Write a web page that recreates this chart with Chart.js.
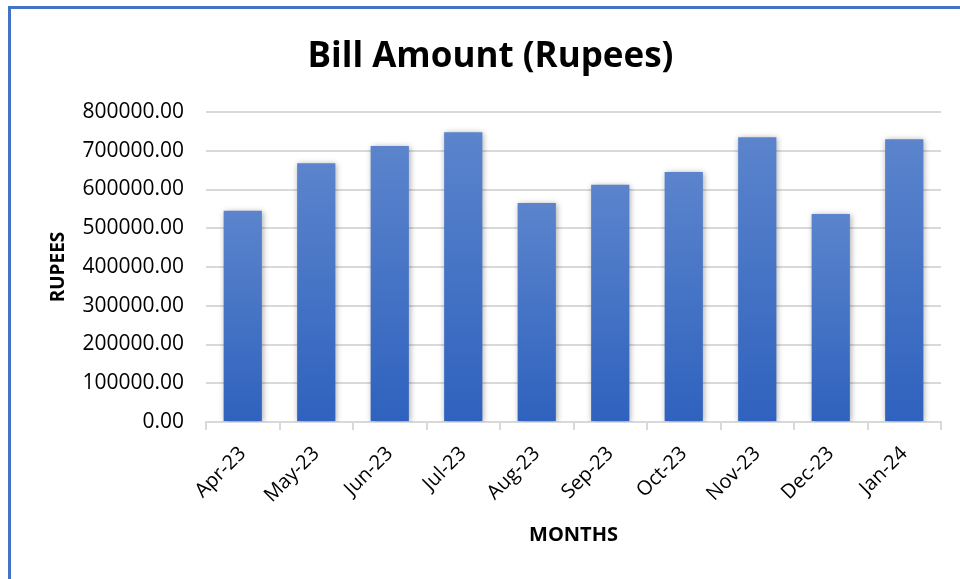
<!DOCTYPE html>
<html>
<head>
<meta charset="utf-8">
<script src="https://cdn.jsdelivr.net/npm/chart.js@4.4.1/dist/chart.umd.min.js"></script>
<style>
  html, body { margin: 0; padding: 0; background: #fff; }
  #wrap { position: relative; width: 960px; height: 579px; }
  #frame { position: absolute; left: 8px; top: 6px; right: 0; bottom: 0;
           border-left: 3px solid #4472c4; border-top: 3px solid #4472c4; pointer-events: none; }
</style>
</head>
<body>
<div id="wrap">
  <canvas id="myChart" width="960" height="579"></canvas>
  <div id="frame"></div>
</div>
<script>
// 데이터
var months = ['Apr-23', 'May-23', 'Jun-23', 'Jul-23', 'Aug-23', 'Sep-23', 'Oct-23', 'Nov-23', 'Dec-23', 'Jan-24'];
var billAmounts = [545000, 668000, 712000, 748000, 565000, 612000, 645000, 735000, 537000, 730000];
var yTicks = [0, 100000, 200000, 300000, 400000, 500000, 600000, 700000, 800000];

var FONT = "'Open Sans', 'DejaVu Sans', sans-serif";

// 막대마다 위에서 아래로 그라데이션
function barGradient(context) {
    var chart = context.chart;
    if (!chart.chartArea || context.type !== 'data') return '#4472c4';
    var y = chart.scales.y;
    var top = y.getPixelForValue(context.raw);
    var base = y.getPixelForValue(0);
    var g = chart.ctx.createLinearGradient(0, top, 0, base);
    g.addColorStop(0, '#5b84cc');
    g.addColorStop(1, '#2f62be');
    return g;
}

// 막대 그림자
var barShadow = {
    id: 'barShadow',
    beforeDatasetsDraw: function (chart) {
        var c = chart.ctx;
        c.save();
        c.shadowColor = 'rgba(0,0,0,0.35)';
        c.shadowBlur = 6;
        c.shadowOffsetX = 1;
        c.shadowOffsetY = 1;
    },
    afterDatasetsDraw: function (chart) {
        chart.ctx.restore();
    }
};

var ctx = document.getElementById('myChart').getContext('2d');
var myChart = new Chart(ctx, {
    type: 'bar',
    data: {
        labels: months,
        datasets: [{
            label: 'Bill Amount',
            data: billAmounts,
            backgroundColor: barGradient,
            borderWidth: 0,
            categoryPercentage: 1,
            barPercentage: 0.52
        }]
    },
    options: {
        responsive: false,
        animation: false,
        layout: { padding: { left: 40, right: 19, top: 0, bottom: 0 } },
        plugins: {
            legend: { display: false },
            tooltip: { enabled: false },
            title: {
                display: true,
                text: 'Bill Amount (Rupees)',
                color: '#000',
                font: { family: FONT, size: 35, weight: 'bold' },
                padding: { top: 36, bottom: 34 }
            }
        },
        scales: {
            x: {
                grid: { drawOnChartArea: false, drawTicks: true, tickLength: 8, color: '#d9d9d9', lineWidth: 2 },
                border: { color: '#d9d9d9', width: 2 },
                ticks: {
                    color: '#000', minRotation: 45, maxRotation: 45, padding: 12,
                    font: { family: FONT, size: 20 }
                },
                title: {
                    display: true, text: 'MONTHS', color: '#000',
                    font: { family: FONT, size: 20, weight: 'bold' },
                    padding: { top: 4, bottom: 32 }
                },
                afterFit: function (scale) { scale.height = 157; }
            },
            y: {
                min: 0,
                max: 800000,
                afterBuildTicks: function (scale) {
                    scale.ticks = yTicks.map(function (v) { return { value: v }; });
                },
                grid: { color: '#d9d9d9', lineWidth: 2, drawTicks: false },
                border: { display: false },
                ticks: {
                    color: '#000', padding: 22,
                    font: { family: FONT, size: 21 },
                    callback: function (v) { return Number(v).toFixed(2); }
                },
                title: {
                    display: true, text: 'RUPEES', color: '#000',
                    font: { family: FONT, size: 19, weight: 'bold' },
                    padding: { top: 7 }
                },
                afterFit: function (scale) { scale.width = 166; }
            }
        }
    },
    plugins: [barShadow]
});
</script>
</body>
</html>
